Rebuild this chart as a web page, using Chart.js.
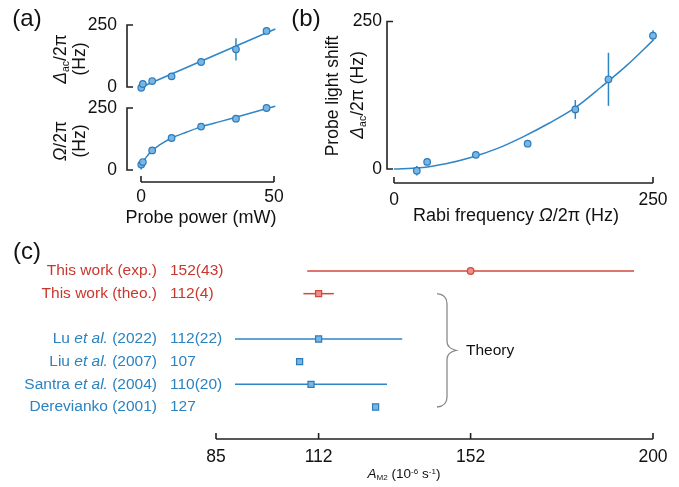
<!DOCTYPE html>
<html>
<head>
<meta charset="utf-8">
<script src="https://cdn.jsdelivr.net/npm/chart.js@4.4.1/dist/chart.umd.min.js"></script>
<style>
  body { margin: 0; background: #fff; }
  #fig { position: relative; width: 679px; height: 487px; overflow: hidden; font-family: "Liberation Sans", Arial, sans-serif; color: #111; }
  canvas { position: absolute; }
  .lbl { position: absolute; white-space: nowrap; line-height: 1; transform: translate(-50%, -50%); }
  .rot { transform: translate(-50%, -50%) rotate(-90deg); }
  sub { font-size: 60%; vertical-align: -0.25em; }
  sup { font-size: 60%; vertical-align: 0.6em; }
</style>
</head>
<body>
<div id="fig">
  <canvas id="chartA1" width="300" height="100" style="left:0px;top:0px"></canvas>
  <canvas id="chartA2" width="300" height="140" style="left:0px;top:95px"></canvas>
  <canvas id="chartB" width="379" height="235" style="left:300px;top:0px"></canvas>
  <canvas id="chartC" width="679" height="257" style="left:0px;top:230px"></canvas>
</div>
<script>
// Datos: potencia de la sonda, desplazamiento de luz y frecuencia de Rabi.
const power = [0.1, 0.7, 4.2, 11.5, 22.6, 35.7, 47.2];
const shift = [-3, 12, 24, 43, 101, 152, 226];
const shiftErr = [8, 3, 3, 3, 16, 45, 9];
const rabi = [22, 32, 79, 129, 175, 207, 250];

// Curvas de ajuste.
const fitPowerShift = [0, 50.5];
const fitShiftLine = [-1, 234];
const fitPowerRabi = [0, 0.5, 1, 2, 4, 7, 11.5, 17, 23, 30, 36, 43, 50.5];
const fitRabiCurve = [2, 26, 37, 52, 77, 101, 129, 152, 176, 196, 214, 235, 257];
const fitRabiX = [0, 25, 50, 75, 100, 125, 150, 175, 200, 225, 250];
const fitShiftCurve = [0, 2, 9, 20, 35, 55, 78, 104, 139, 176, 218];

// Panel (c): valores de A_M2 (10^-6 s^-1).
const rowLabels = ['This work (exp.)', 'This work (theo.)', '', 'Lu et al. (2022)', 'Liu et al. (2007)', 'Santra et al. (2004)', 'Derevianko (2001)'];
const rateValues = [152, 112, null, 112, 107, 110, 127];
const rateErrors = [43, 4, null, 22, null, 20, null];
const rateTicks = [85, 112, 152, 200];

const BLUE = '#2f86c6';
const BLUE_FILL = '#7ab6e4';
const BLUE_EDGE = '#2c7cbc';
const RED = '#d2483c';
const RED_FILL = '#ec8f86';
const RED_TEXT = '#c8372d';
const BLUE_TEXT = '#2b83c0';
const AXIS = '#222';
const FONT = '"Liberation Sans", Arial, sans-serif';
const TICK_SIZE = 17.5;

const xy = (xs, ys) => xs.map((x, i) => ({ x: x, y: ys[i] }));

// Barras de error dibujadas con las escalas del gráfico.
const errorBars = {
    id: 'errorBars',
    beforeDatasetsDraw(chart) {
        const ctx = chart.ctx;
        const sx = chart.scales.x, sy = chart.scales.y;
        chart.data.datasets.forEach(ds => {
            if (!ds.yErr && !ds.xErr) return;
            ctx.save();
            ctx.lineWidth = 1.5;
            ds.data.forEach((p, i) => {
                const e = ds.yErr ? ds.yErr[i] : ds.xErr[i];
                if (!e) return;
                ctx.strokeStyle = Array.isArray(ds.errColor) ? ds.errColor[i] : ds.errColor;
                ctx.beginPath();
                if (ds.yErr) {
                    const px = sx.getPixelForValue(p.x);
                    ctx.moveTo(px, sy.getPixelForValue(p.y - e));
                    ctx.lineTo(px, sy.getPixelForValue(p.y + e));
                } else {
                    const py = sy.getPixelForValue(p.y);
                    ctx.moveTo(sx.getPixelForValue(p.x - e), py);
                    ctx.lineTo(sx.getPixelForValue(p.x + e), py);
                }
                ctx.stroke();
            });
            ctx.restore();
        });
    }
};

// Ejes tipo corchete separados del área de datos.
const bracketAxes = {
    id: 'bracketAxes',
    afterDraw(chart, args, opts) {
        const ctx = chart.ctx;
        const area = chart.chartArea;
        ctx.save();
        ctx.strokeStyle = AXIS;
        ctx.lineWidth = 1.6;
        if (opts.yGap != null) {
            const sy = chart.scales.y;
            const x0 = area.left - opts.yGap;
            const top = sy.getPixelForValue(sy.max), bot = sy.getPixelForValue(sy.min);
            ctx.beginPath();
            ctx.moveTo(x0 + 6, top); ctx.lineTo(x0, top); ctx.lineTo(x0, bot); ctx.lineTo(x0 + 6, bot);
            ctx.stroke();
        }
        if (opts.xGap != null) {
            const sx = chart.scales.x;
            const y0 = area.bottom + opts.xGap;
            ctx.beginPath();
            ctx.moveTo(sx.getPixelForValue(sx.min), y0);
            ctx.lineTo(sx.getPixelForValue(sx.max), y0);
            sx.ticks.forEach(t => {
                const px = sx.getPixelForValue(t.value);
                ctx.moveTo(px, y0); ctx.lineTo(px, y0 - 6);
            });
            ctx.stroke();
        }
        ctx.restore();
    }
};

const fixedTicks = vals => scale => { scale.ticks = vals.map(v => ({ value: v })); };

const axisY = (min, max, width, pad) => ({
    type: 'linear', min: min, max: max,
    afterBuildTicks: fixedTicks([min, max]),
    afterFit: s => { s.width = width; s.paddingTop = 0; s.paddingBottom = 0; },
    grid: { display: false, drawTicks: false },
    border: { display: false },
    ticks: { padding: pad, color: '#111', font: { family: FONT, size: TICK_SIZE } }
});

const axisX = (min, max, ticks, height, pad, show) => ({
    type: 'linear', min: min, max: max, display: show,
    afterBuildTicks: fixedTicks(ticks),
    afterFit: s => { s.height = height; s.paddingLeft = 0; s.paddingRight = 0; },
    grid: { display: false, drawTicks: false },
    border: { display: false },
    ticks: { padding: pad, autoSkip: false, maxRotation: 0, color: '#111', font: { family: FONT, size: TICK_SIZE } }
});

const baseOptions = (scales, padding, brackets) => ({
    responsive: false,
    animation: false,
    devicePixelRatio: 1,
    layout: { padding: padding },
    scales: scales,
    plugins: { legend: { display: false }, tooltip: { enabled: false }, bracketAxes: brackets }
});

const fitDataset = (xs, ys) => ({
    type: 'line', data: xy(xs, ys), borderColor: BLUE, borderWidth: 1.5,
    pointRadius: 0, tension: 0.4, cubicInterpolationMode: 'monotone', clip: false, order: 2
});

const pointDataset = (xs, ys, err) => ({
    type: 'scatter', data: xy(xs, ys), yErr: err, errColor: BLUE,
    backgroundColor: BLUE_FILL, borderColor: BLUE_EDGE, borderWidth: 1.2,
    pointRadius: 3.3, clip: false, order: 1
});

// Panel (a) superior: desplazamiento de luz contra potencia.
new Chart(document.getElementById('chartA1'), {
    type: 'scatter',
    data: { datasets: [fitDataset(fitPowerShift, fitShiftLine), pointDataset(power, shift, shiftErr)] },
    options: baseOptions({ x: axisX(0, 50, [0, 50], 0, 0, false), y: axisY(0, 250, 141, 24) },
        { left: 0, right: 26, top: 25, bottom: 13 }, { yGap: 14 }),
    plugins: [errorBars, bracketAxes]
});

// Panel (a) inferior: frecuencia de Rabi contra potencia.
new Chart(document.getElementById('chartA2'), {
    type: 'scatter',
    data: { datasets: [fitDataset(fitPowerRabi, fitRabiCurve), pointDataset(power, rabi, null)] },
    options: baseOptions({ x: axisX(0, 50, [0, 50], 65, 17, true), y: axisY(0, 250, 141, 24) },
        { left: 0, right: 26, top: 13, bottom: 0 }, { yGap: 14, xGap: 12 }),
    plugins: [errorBars, bracketAxes]
});

// Panel (b): desplazamiento contra frecuencia de Rabi.
new Chart(document.getElementById('chartB'), {
    type: 'scatter',
    data: { datasets: [fitDataset(fitRabiX, fitShiftCurve), pointDataset(rabi, shift, shiftErr)] },
    options: baseOptions({ x: axisX(0, 250, [0, 250], 66, 21, true), y: axisY(0, 250, 94, 12) },
        { left: 0, right: 26, top: 21.5, bottom: 0 }, { yGap: 7, xGap: 14 }),
    plugins: [errorBars, bracketAxes]
});

// Panel (c): etiquetas de filas, valores y llave "Theory".
const drawRowText = (ctx, text, xRight, y, color) => {
    const parts = text.split('et al.');
    const segs = [];
    parts.forEach((p, i) => {
        if (i > 0) segs.push({ t: 'et al.', f: 'italic 15.5px ' + FONT });
        if (p) segs.push({ t: p, f: '15.5px ' + FONT });
    });
    let total = 0;
    segs.forEach(s => { ctx.font = s.f; s.w = ctx.measureText(s.t).width; total += s.w; });
    let x = xRight - total;
    ctx.fillStyle = color;
    ctx.textBaseline = 'middle';
    ctx.textAlign = 'left';
    segs.forEach(s => { ctx.font = s.f; ctx.fillText(s.t, x, y); x += s.w; });
};

const rowText = {
    id: 'rowText',
    afterDraw(chart) {
        const ctx = chart.ctx;
        const sy = chart.scales.y;
        ctx.save();
        rowLabels.forEach((name, i) => {
            if (rateValues[i] == null) return;
            const y = sy.getPixelForValue(i);
            const color = i < 2 ? RED_TEXT : BLUE_TEXT;
            drawRowText(ctx, name, 157, y, color);
            ctx.font = '15.5px ' + FONT;
            ctx.textAlign = 'left';
            ctx.fillText(rateErrors[i] ? rateValues[i] + '(' + rateErrors[i] + ')' : String(rateValues[i]), 170, y);
        });
        // Llave que agrupa los resultados teóricos.
        const yTop = sy.getPixelForValue(1), yBot = sy.getPixelForValue(6);
        const yMid = (yTop + yBot) / 2;
        const xa = 437, xb = 447, xt = 456;
        ctx.strokeStyle = '#8a8a8a';
        ctx.lineWidth = 1.3;
        ctx.beginPath();
        ctx.moveTo(xa, yTop);
        ctx.quadraticCurveTo(xb, yTop + 1, xb, yTop + 10);
        ctx.lineTo(xb, yMid - 9);
        ctx.quadraticCurveTo(xb, yMid - 2, xt, yMid);
        ctx.quadraticCurveTo(xb, yMid + 2, xb, yMid + 9);
        ctx.lineTo(xb, yBot - 10);
        ctx.quadraticCurveTo(xb, yBot - 1, xa, yBot);
        ctx.stroke();
        ctx.fillStyle = '#111';
        ctx.font = '15.5px ' + FONT;
        ctx.fillText('Theory', 466, yMid);
        ctx.restore();
    }
};

const rateIdx = rateValues.map((v, i) => i).filter(i => rateValues[i] != null);
const rowColor = (i, red, blue) => (i < 2 ? red : blue);

new Chart(document.getElementById('chartC'), {
    type: 'scatter',
    data: {
        labels: rowLabels,
        datasets: [{
            data: rateIdx.map(i => ({ x: rateValues[i], y: rowLabels[i] })),
            xErr: rateIdx.map(i => rateErrors[i]),
            errColor: rateIdx.map(i => rowColor(i, RED, BLUE)),
            pointStyle: rateIdx.map(i => (i === 0 ? 'circle' : 'rect')),
            pointRadius: rateIdx.map(i => (i === 0 ? 3.3 : 4.3)),
            backgroundColor: rateIdx.map(i => rowColor(i, RED_FILL, BLUE_FILL)),
            borderColor: rateIdx.map(i => rowColor(i, RED, BLUE_EDGE)),
            borderWidth: 1.2,
            clip: false
        }]
    },
    options: baseOptions({
        x: axisX(85, 200, rateTicks, 80, 40, true),
        y: { type: 'category', labels: rowLabels, offset: false, display: false }
    }, { left: 216, right: 26, top: 41, bottom: 0 }, { xGap: 32 }),
    plugins: [errorBars, bracketAxes, rowText]
});

// Textos con formato (títulos de ejes y etiquetas de panel).
const fig = document.getElementById('fig');
const addText = (html, x, y, size, rotate) => {
    const d = document.createElement('div');
    d.className = 'lbl' + (rotate ? ' rot' : '');
    d.style.left = x + 'px';
    d.style.top = y + 'px';
    d.style.fontSize = size + 'px';
    d.innerHTML = html;
    fig.appendChild(d);
};
addText('(a)', 27, 18, 24);
addText('(b)', 306, 18, 24);
addText('(c)', 27, 251, 24);
addText('<i>Δ</i><sub>ac</sub>/2π', 61, 59, 17.5, true);
addText('(Hz)', 80, 59, 17.5, true);
addText('<i>Ω</i>/2π', 61, 141, 17.5, true);
addText('(Hz)', 80, 141, 17.5, true);
addText('Probe power (mW)', 201, 217, 18);
addText('Probe light shift', 333, 96, 17.5, true);
addText('<i>Δ</i><sub>ac</sub>/2π (Hz)', 358, 95, 17.5, true);
addText('Rabi frequency <i>Ω</i>/2π (Hz)', 516, 215, 18);
addText('<i>A</i><sub>M2</sub> (10<sup>-6</sup> s<sup>-1</sup>)', 404, 475, 13.5);
</script>
</body>
</html>
